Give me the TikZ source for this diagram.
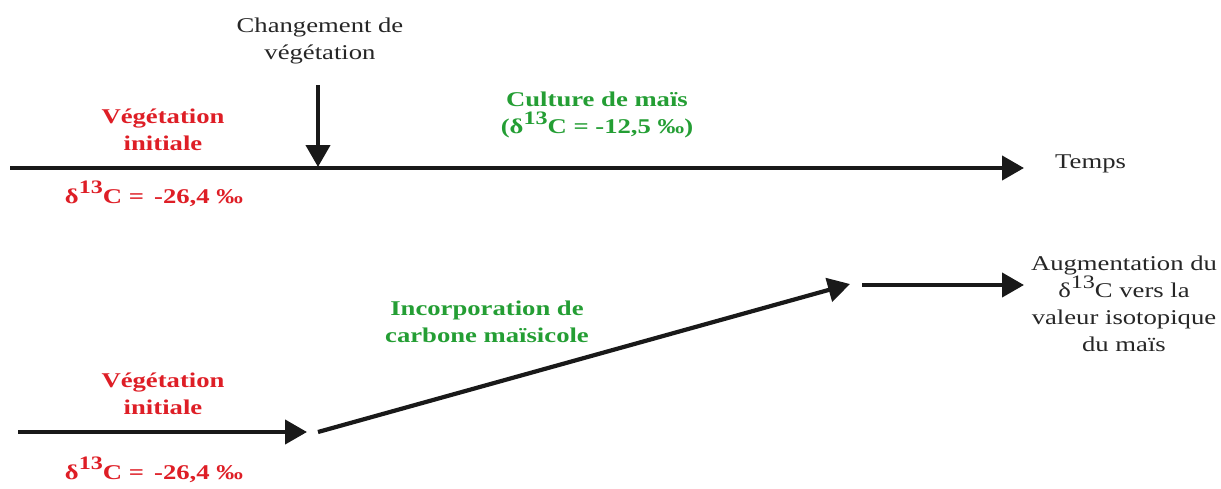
\documentclass[tikz,border=0pt]{standalone}
\usepackage{fontspec}
\setmainfont{Liberation Serif}[FakeStretch=1.27]
\usetikzlibrary{arrows.meta}
\definecolor{vred}{RGB}{222,30,38}
\definecolor{vgreen}{RGB}{36,158,52}
\newcommand{\dC}{δ\raisebox{0.45em}{\fontsize{19}{19}\selectfont 13}C}
\tikzset{
  txt/.style={font=\fontsize{21}{27}\selectfont, align=center, inner sep=0pt, text=black!85},
  redt/.style={txt, text=vred, font=\fontsize{21}{27}\selectfont\bfseries},
  greent/.style={txt, text=vgreen, font=\fontsize{21}{27}\selectfont\bfseries},
  arr/.style={line width=4.2pt, draw=black!90, -{Triangle[length=22pt 0,width=24pt 0]}},
}
\begin{document}
\begin{tikzpicture}[x=1pt,y=-1pt]
\useasboundingbox (0,0) rectangle (1221,488);
% top timeline
\coordinate (t0) at (10,168);
\coordinate (t1) at (1024,168);
\draw[arr] (t0) -- (t1);
\node[txt, anchor=west] (temps) at (1055,164) {Temps};
\node[txt] (chg) at (320,41) {Changement de\\végétation};
\coordinate (c0) at (318,85);
\coordinate (c1) at (318,167);
\draw[arr] (c0) -- (c1);
\node[redt] (veg1) at (163,130) {Végétation\\initiale};
\node[redt] (d1) at (154,194) {\dC{} =\, -26,4 ‰};
\node[greent] (cult) at (597,115) {Culture de maïs\\(\dC{} = -12,5 ‰)};
% bottom
\coordinate (b0) at (18,432);
\coordinate (b1) at (307,432);
\draw[arr] (b0) -- (b1);
\node[redt] (veg2) at (163,394) {Végétation\\initiale};
\node[redt] (d2) at (154,470) {\dC{} =\, -26,4 ‰};
\coordinate (g0) at (318,432);
\coordinate (g1) at (850,284);
\draw[arr] (g0) -- (g1);
\node[greent] (inc) at (487,322) {Incorporation de\\carbone maïsicole};
\coordinate (h0) at (862,285);
\coordinate (h1) at (1024,285);
\draw[arr] (h0) -- (h1);
\node[txt] (aug) at (1124,304) {Augmentation du\\\dC{} vers la\\valeur isotopique\\du maïs};
\end{tikzpicture}
\end{document}
